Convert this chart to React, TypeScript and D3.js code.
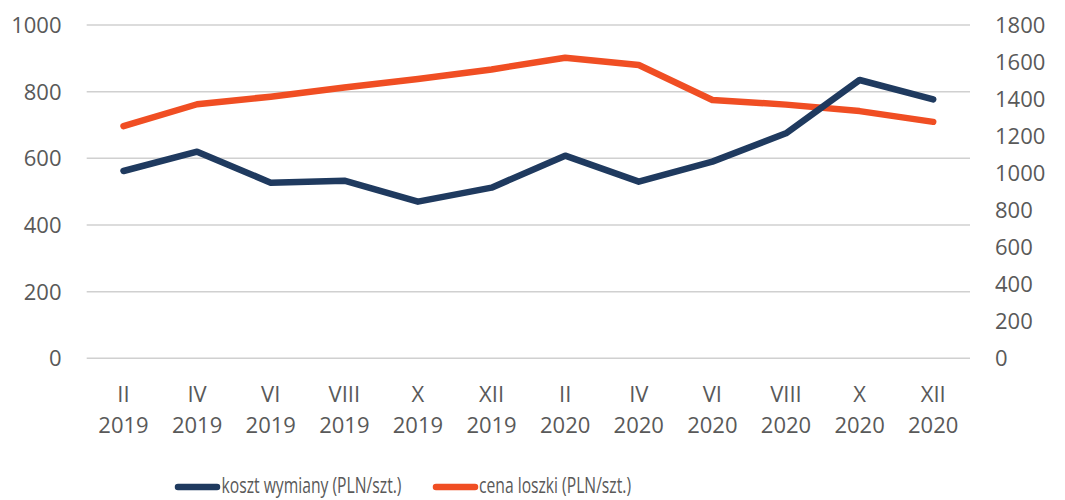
import React from "react";
import * as d3 from "d3";

const months = ["II", "IV", "VI", "VIII", "X", "XII", "II", "IV", "VI", "VIII", "X", "XII"];
const years = ["2019", "2019", "2019", "2019", "2019", "2019", "2020", "2020", "2020", "2020", "2020", "2020"];
const kosztWymiany = [562, 620, 527, 533, 470, 512, 608, 530, 590, 675, 835, 777];
const cenaLoszki = [1254, 1372, 1413, 1462, 1508, 1560, 1623, 1584, 1395, 1370, 1335, 1277];
const leftTicks = [0, 200, 400, 600, 800, 1000];
const rightTicks = [0, 200, 400, 600, 800, 1000, 1200, 1400, 1600, 1800];
const seriesNames = ["koszt wymiany (PLN/szt.)", "cena loszki (PLN/szt.)"];

const W = 1065, H = 500;
const plotLeft = 86.7, plotRight = 970, plotTop = 25, plotBottom = 358.3;
const NAVY = "#1f3a5f";
const RED = "#f04e23";
const TEXT = "#595959";
const FONT = "'Open Sans', sans-serif";

export default function App() {
  const idx = months.map((_, i) => String(i));
  const x = d3.scaleBand<string>().domain(idx).range([plotLeft, plotRight]);
  const yL = d3.scaleLinear().domain([0, 1000]).range([plotBottom, plotTop]);
  const yR = d3.scaleLinear().domain([0, 1800]).range([plotBottom, plotTop]);
  const cx = (i: number) => (x(String(i)) as number) + x.bandwidth() / 2;

  const lineL = d3.line<number>().x((_, i) => cx(i)).y((d) => yL(d));
  const lineR = d3.line<number>().x((_, i) => cx(i)).y((d) => yR(d));

  return (
    <svg width={W} height={H} style={{ position: "absolute", left: 0, top: 0, background: "#fff" }}>
      <rect width={W} height={H} fill="#fff" />
      {leftTicks.map((t) => (
        <g key={"l" + t}>
          <line x1={plotLeft} x2={plotRight} y1={yL(t)} y2={yL(t)} stroke="#d0d0d0" strokeWidth={1.5} />
          <text x={61.5} y={yL(t)} dy="0.36em" textAnchor="end" fontFamily={FONT} fontSize={22} fill={TEXT}>
            {t}
          </text>
        </g>
      ))}
      {rightTicks.map((t) => (
        <text key={"r" + t} x={995} y={yR(t)} dy="0.36em" textAnchor="start" fontFamily={FONT} fontSize={22} fill={TEXT}>
          {t}
        </text>
      ))}
      {months.map((m, i) => (
        <g key={"x" + i}>
          <text x={cx(i)} y={394} dy="0.36em" textAnchor="middle" fontFamily={FONT} fontSize={22} fill={TEXT}>
            {m}
          </text>
          <text x={cx(i)} y={425.5} dy="0.36em" textAnchor="middle" fontFamily={FONT} fontSize={22} fill={TEXT}>
            {years[i]}
          </text>
        </g>
      ))}
      <path d={lineR(cenaLoszki) as string} fill="none" stroke={RED} strokeWidth={6.5} strokeLinejoin="round" strokeLinecap="round" />
      <path d={lineL(kosztWymiany) as string} fill="none" stroke={NAVY} strokeWidth={6.5} strokeLinejoin="round" strokeLinecap="round" />
      <g>
        <line x1={178} x2={217} y1={487} y2={487} stroke={NAVY} strokeWidth={6.5} strokeLinecap="round" />
        <text x={221.5} y={485} dy="0.36em" fontFamily={FONT} fontSize={21} fill={TEXT} textLength={180} lengthAdjust="spacingAndGlyphs">
          {seriesNames[0]}
        </text>
        <line x1={436} x2={475} y1={487} y2={487} stroke={RED} strokeWidth={6.5} strokeLinecap="round" />
        <text x={479} y={485} dy="0.36em" fontFamily={FONT} fontSize={21} fill={TEXT} textLength={152} lengthAdjust="spacingAndGlyphs">
          {seriesNames[1]}
        </text>
      </g>
    </svg>
  );
}
